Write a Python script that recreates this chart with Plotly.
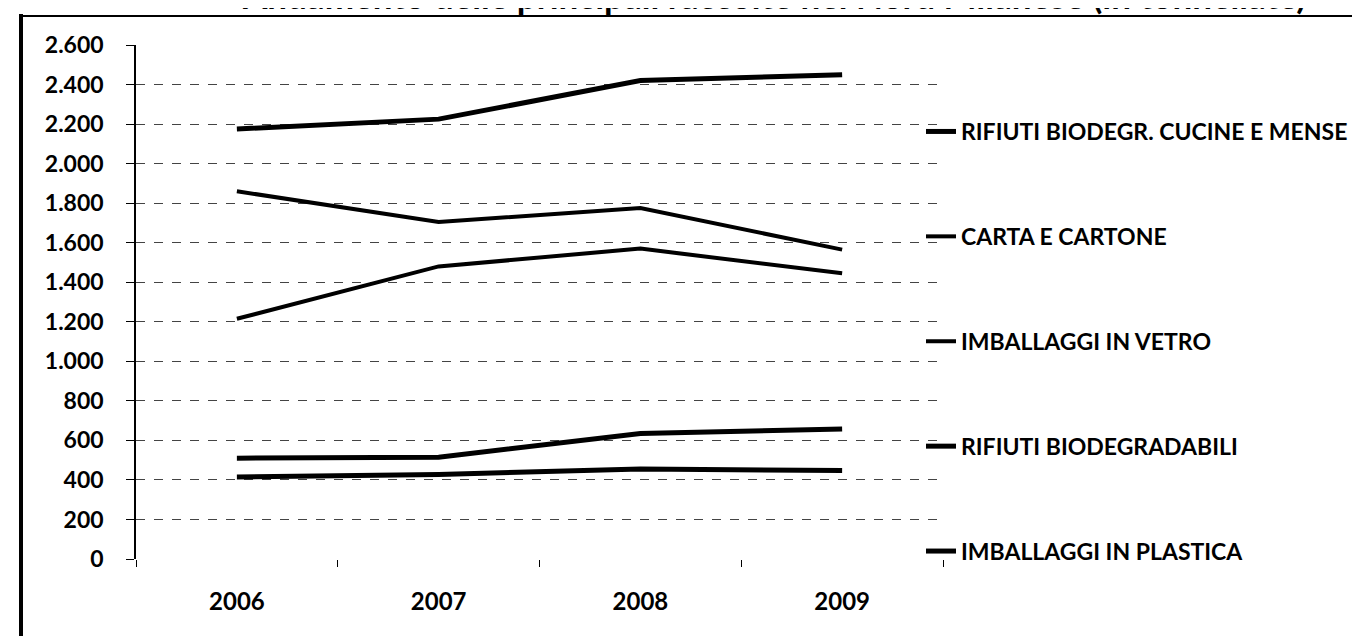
import plotly.graph_objects as go

years = ["2006", "2007", "2008", "2009"]
series_names = [
    "RIFIUTI BIODEGR. CUCINE E MENSE",
    "CARTA E CARTONE",
    "IMBALLAGGI IN VETRO",
    "RIFIUTI BIODEGRADABILI",
    "IMBALLAGGI IN PLASTICA",
]
cucine_mense = [2175, 2225, 2420, 2450]
carta_cartone = [1860, 1705, 1775, 1565]
imballaggi_vetro = [1215, 1480, 1570, 1445]
rifiuti_biodegradabili = [510, 515, 635, 658]
imballaggi_plastica = [415, 428, 455, 448]
y_ticks = list(range(0, 2601, 200))

values = [cucine_mense, carta_cartone, imballaggi_vetro, rifiuti_biodegradabili, imballaggi_plastica]
widths = [5, 4, 4, 5, 5]

W, H = 1360, 636
L, R, T, B = 128, 935, 37, 551  # plot area pixel edges


def px_x(p):
    return (p - L) / (R - L)


def px_y(p):
    return (B - p) / (B - T)


FONT = "Lato"

fig = go.Figure()
for i, (name, vals) in enumerate(zip(series_names, values)):
    fig.add_trace(go.Scatter(
        x=years, y=vals, name=name, mode="lines",
        line=dict(color="#000000", width=widths[i]),
        legendgroup=f"g{i}",
    ))

fig.update_layout(
    width=W, height=H,
    margin=dict(l=L, r=W - R, t=T, b=H - B, pad=0),
    paper_bgcolor="white", plot_bgcolor="white",
    separators=",.",
    font=dict(family=FONT, size=24, color="#000000"),
    showlegend=True,
    legend=dict(
        x=px_x(913), xanchor="left",
        y=px_y(102), yanchor="top",
        font=dict(family=FONT, size=23, color="#000000", weight="bold"),
        tracegroupgap=72,
        itemwidth=30,
        bgcolor="rgba(0,0,0,0)",
        traceorder="grouped",
    ),
    xaxis=dict(
        type="category", range=[-0.5, 3.5],
        showgrid=False, showline=False, zeroline=False,
        ticks="outside", tickson="boundaries", ticklen=7, tickcolor="#000", tickwidth=1,
        tickfont=dict(family=FONT, size=24, weight="bold"),
        ticklabelstandoff=26,
    ),
    yaxis=dict(
        range=[0, 2600], tickvals=y_ticks, tickformat=",d",
        showgrid=True, gridcolor="#444444", gridwidth=1, griddash="dash",
        zeroline=False,
        showline=True, linecolor="#000", linewidth=1.5,
        ticks="outside", ticklen=8, tickcolor="#000", tickwidth=1,
        tickfont=dict(family=FONT, size=23, weight="bold"),
        ticklabelstandoff=18,
    ),
    shapes=[
        dict(type="line", xref="paper", yref="paper",
             x0=px_x(13), x1=px_x(1370), y0=px_y(8), y1=px_y(8),
             line=dict(color="#000", width=2)),
        dict(type="line", xref="paper", yref="paper",
             x0=px_x(13), x1=px_x(13), y0=px_y(6), y1=px_y(650),
             line=dict(color="#000", width=4)),
    ],
    annotations=[
        dict(xref="paper", yref="paper", x=px_x(1300), y=px_y(10),
             xanchor="right", yanchor="bottom", showarrow=False,
             text="Andamento delle principali raccolte nel Nord Milanese (in tonnellate)",
             font=dict(family=FONT, size=35, color="#000", weight="bold")),
    ],
)

fig.write_html("out.html")
